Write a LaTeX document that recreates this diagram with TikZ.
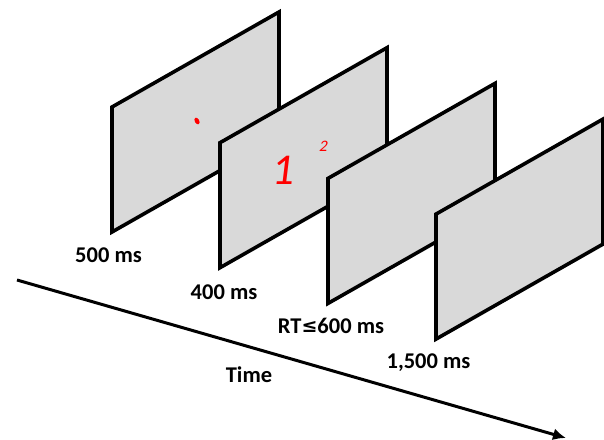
\documentclass[tikz,border=0pt]{standalone}
\usepackage{fontspec}
\usetikzlibrary{arrows.meta}
\setmainfont{Carlito}
\newfontfamily\symfont{DejaVu Sans}
\begin{document}
\begin{tikzpicture}[x=1pt,y=-1pt,
  panel/.style={draw=black,fill=panelgray,line width=3.6pt,line join=miter},
  lab/.style={font=\fontsize{22.5}{24}\selectfont\bfseries,inner sep=0pt,anchor=center},
  timearrow/.style={draw=black,line width=3pt,-{Latex[length=13pt,width=12pt]}}]
\definecolor{panelgray}{HTML}{D9D9D9}
\useasboundingbox (0,0) rectangle (604,439);
\foreach \i in {0,1,2,3}{
  \pgfmathsetmacro{\px}{112+108*\i}
  \pgfmathsetmacro{\py}{107+35.7*\i}
  \draw[panel] (\px,\py) -- ++(167,-95) -- ++(0,125) -- ++(-167,95) -- cycle;
}
% stimuli
\fill[red,rotate around={-60:(197,121)}] (197,121) ellipse (3.6 and 2.2);
\node[text=red,font=\fontsize{44}{46}\selectfont,inner sep=0pt,xslant=0.12] (one) at (284,170) {1};
\node[text=red,font=\fontsize{16}{18}\selectfont,inner sep=0pt,xslant=0.2] (two) at (324,146) {2};
% labels
\node[lab] (l1) at (108.5,255) {500 ms};
\node[lab] (l2) at (224,292) {400 ms};
\node[lab] (l3) at (331,325.5) {RT\raisebox{0.5pt}{\symfont\fontsize{19}{21}\selectfont ≤}600 ms};
\node[lab] (l4) at (428.5,362.5) {1,500 ms};
\node[lab] (lt) at (249,375) {Time};
% time arrow
\coordinate (tstart) at (17,280);
\coordinate (tend) at (566,438);
\draw[timearrow] (tstart) -- (tend);
\end{tikzpicture}
\end{document}
